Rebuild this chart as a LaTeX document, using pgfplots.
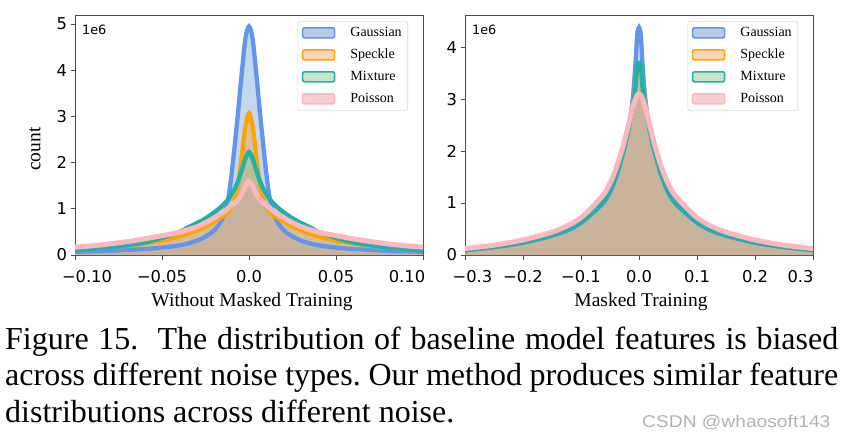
\documentclass[border=0pt]{standalone}
\usepackage{fontspec}
\setmainfont{Liberation Serif}
\newfontfamily\dejavu{DejaVu Sans}
\newfontfamily\wmfont{Liberation Sans}
\usepackage{pgfplots}
\pgfplotsset{compat=1.18}
\usepackage{pgfplotstable}

\definecolor{gline}{HTML}{6495ED}
\definecolor{sline}{HTML}{FFA500}
\definecolor{mline}{HTML}{20B2AA}
\definecolor{pline}{HTML}{FFB6C1}
\definecolor{gfill}{HTML}{6A9AD8}
\definecolor{sfill}{HTML}{FF9A40}
\definecolor{mfill}{HTML}{7CC47C}
\definecolor{pfill}{HTML}{E8A0A0}
\definecolor{gleg}{HTML}{B8CCE8}
\definecolor{sleg}{HTML}{FDD6BA}
\definecolor{mleg}{HTML}{C8E4C8}
\definecolor{pleg}{HTML}{F5D0D2}

\pgfplotstableread{
x g s m p
-0.100 0.07 0.12 0.10 0.17
-0.090 0.08 0.14 0.13 0.20
-0.080 0.09 0.17 0.16 0.24
-0.070 0.11 0.20 0.21 0.29
-0.060 0.13 0.25 0.27 0.35
-0.050 0.16 0.31 0.37 0.42
-0.040 0.21 0.40 0.50 0.49
-0.035 0.25 0.46 0.60 0.55
-0.030 0.31 0.53 0.69 0.61
-0.026 0.38 0.60 0.77 0.68
-0.022 0.47 0.68 0.87 0.76
-0.018 0.62 0.77 0.98 0.85
-0.015 0.82 0.84 1.08 0.92
-0.012 1.22 0.93 1.20 1.01
-0.010 1.75 1.05 1.32 1.08
-0.008 2.45 1.25 1.45 1.14
-0.006 3.20 1.60 1.63 1.21
-0.004 4.00 2.20 1.86 1.33
-0.002 4.70 2.80 2.10 1.50
0.000 4.95 3.07 2.23 1.60
0.002 4.70 2.80 2.10 1.50
0.004 4.00 2.20 1.86 1.33
0.006 3.20 1.60 1.63 1.21
0.008 2.45 1.25 1.45 1.14
0.010 1.75 1.05 1.32 1.08
0.012 1.22 0.93 1.20 1.01
0.015 0.82 0.84 1.08 0.92
0.018 0.62 0.77 0.98 0.85
0.022 0.47 0.68 0.87 0.76
0.026 0.38 0.60 0.77 0.68
0.030 0.31 0.53 0.69 0.61
0.035 0.25 0.46 0.60 0.55
0.040 0.21 0.40 0.50 0.49
0.050 0.16 0.31 0.37 0.42
0.060 0.13 0.25 0.27 0.35
0.070 0.11 0.20 0.21 0.29
0.080 0.09 0.17 0.16 0.24
0.090 0.08 0.14 0.13 0.20
0.100 0.07 0.12 0.10 0.17
}\leftdata

\pgfplotstableread{
x g s m p
-0.300 0.092 0.10 0.095 0.125
-0.250 0.15 0.16 0.155 0.19
-0.200 0.235 0.25 0.24 0.29
-0.150 0.37 0.39 0.38 0.44
-0.120 0.49 0.51 0.50 0.58
-0.100 0.62 0.65 0.63 0.72
-0.090 0.71 0.74 0.72 0.82
-0.080 0.81 0.84 0.82 0.93
-0.070 0.91 0.95 0.92 1.05
-0.060 1.03 1.07 1.04 1.18
-0.050 1.21 1.25 1.22 1.38
-0.040 1.49 1.53 1.50 1.65
-0.035 1.66 1.70 1.67 1.82
-0.030 1.86 1.90 1.87 2.00
-0.025 2.07 2.10 2.07 2.20
-0.020 2.33 2.35 2.32 2.42
-0.015 2.65 2.62 2.60 2.65
-0.010 3.10 2.95 2.92 2.88
-0.006 3.70 3.28 3.25 3.00
-0.003 4.25 3.55 3.66 3.08
0.000 4.38 3.62 3.68 3.10
0.003 4.25 3.55 3.66 3.08
0.006 3.70 3.28 3.25 3.00
0.010 3.10 2.95 2.92 2.88
0.015 2.65 2.62 2.60 2.65
0.020 2.33 2.35 2.32 2.42
0.025 2.07 2.10 2.07 2.20
0.030 1.86 1.90 1.87 2.00
0.035 1.66 1.70 1.67 1.82
0.040 1.49 1.53 1.50 1.65
0.050 1.21 1.25 1.22 1.38
0.060 1.03 1.07 1.04 1.18
0.070 0.91 0.95 0.92 1.05
0.080 0.81 0.84 0.82 0.93
0.090 0.71 0.74 0.72 0.82
0.100 0.62 0.65 0.63 0.72
0.120 0.49 0.51 0.50 0.58
0.150 0.37 0.39 0.38 0.44
0.200 0.235 0.25 0.24 0.29
0.250 0.15 0.16 0.155 0.19
0.300 0.092 0.10 0.095 0.125
}\rightdata

\pgfplotsset{
  myaxis/.style={
    scale only axis, width=348pt, height=240pt,
    axis line style={black!70, line width=0.8pt},
    ymin=0,
    tick align=outside, major tick length=4.5pt,
    tick pos=left,
    tick style={black!70, line width=0.8pt},
    ticklabel style={font=\dejavu\fontsize{16.3}{17}\selectfont},
    xticklabel style={yshift=-7pt},
    ytick={0,1,2,3,4,5}, yticklabels={0,1,2,3,4,5},
    legend cell align=left,
    legend image code/.code={\draw[##1] (0pt,-5pt) rectangle (32pt,5pt);},
    legend style={at={(rel axis cs:0.957,0.975)}, anchor=north east,
      draw=black!15, rounded corners=2pt, line width=0.6pt,
      font=\fontsize{14}{15}\selectfont,
      inner xsep=4pt, inner ysep=3pt, row sep=5pt, column sep=13pt,
      nodes={text height=10pt, text depth=3pt, inner sep=2pt}},
    fillg/.style={draw=none, fill=gfill, fill opacity=0.4, forget plot, smooth},
    fills/.style={draw=none, fill=sfill, fill opacity=0.4, forget plot, smooth},
    fillm/.style={draw=none, fill=mfill, fill opacity=0.4, forget plot, smooth},
    fillp/.style={draw=none, fill=pfill, fill opacity=0.4, forget plot, smooth},
    lg/.style={gline, line width=4.3pt, smooth, forget plot},
    ls/.style={sline, line width=4.3pt, smooth, forget plot},
    lm/.style={mline, line width=4.3pt, smooth, forget plot},
    lp/.style={pline, line width=5pt, smooth, forget plot},
  }
}

\begin{document}
\begin{tikzpicture}
\useasboundingbox (0pt,-440pt) rectangle (843pt,0pt);

\begin{axis}[myaxis, at={(75pt,-255pt)}, anchor=south west,
  xmin=-0.10, xmax=0.10, ymax=5.195,
  xtick={-0.1,-0.05,0,0.05,0.1},
  xticklabels={\hspace*{24pt}−0.10,−0.05,0.0,0.05,0.10\hspace*{32pt}}]
  \addplot[fillg] table[x=x,y=g]{\leftdata} \closedcycle;
  \addplot[fills] table[x=x,y=s]{\leftdata} \closedcycle;
  \addplot[fillm] table[x=x,y=m]{\leftdata} \closedcycle;
  \addplot[fillp] table[x=x,y=p]{\leftdata} \closedcycle;
  \addplot[lg] table[x=x,y=g]{\leftdata};
  \addplot[ls] table[x=x,y=s]{\leftdata};
  \addplot[lm] table[x=x,y=m]{\leftdata};
  \addplot[lp] table[x=x,y=p]{\leftdata};
  \addlegendimage{draw=gline, fill=gleg, line width=1.6pt}
  \addlegendentry{Gaussian}
  \addlegendimage{draw=sline, fill=sleg, line width=1.6pt}
  \addlegendentry{Speckle}
  \addlegendimage{draw=mline, fill=mleg, line width=1.6pt}
  \addlegendentry{Mixture}
  \addlegendimage{draw=pline, fill=pleg, line width=1.6pt}
  \addlegendentry{Poisson}
  \node[anchor=north west, inner sep=0pt, font=\dejavu\fontsize{12.8}{13}\selectfont]
    at (rel axis cs:0,1) [xshift=7pt, yshift=-10pt] {1e6};
\end{axis}

\begin{axis}[myaxis, at={(465pt,-255pt)}, anchor=south west,
  xmin=-0.3, xmax=0.3, ymax=4.62,
  xtick={-0.3,-0.2,-0.1,0,0.1,0.2,0.3},
  xticklabels={\hspace*{15pt}−0.3,−0.2,−0.1,0.0,0.1,0.2,0.3\hspace*{25pt}},
  ytick={0,1,2,3,4}, yticklabels={0,1,2,3,4}]
  \addplot[fillg] table[x=x,y=g]{\rightdata} \closedcycle;
  \addplot[fills] table[x=x,y=s]{\rightdata} \closedcycle;
  \addplot[fillm] table[x=x,y=m]{\rightdata} \closedcycle;
  \addplot[fillp] table[x=x,y=p]{\rightdata} \closedcycle;
  \addplot[lg] table[x=x,y=g]{\rightdata};
  \addplot[ls] table[x=x,y=s]{\rightdata};
  \addplot[lm] table[x=x,y=m]{\rightdata};
  \addplot[lp] table[x=x,y=p]{\rightdata};
  \addlegendimage{draw=gline, fill=gleg, line width=1.6pt}
  \addlegendentry{Gaussian}
  \addlegendimage{draw=sline, fill=sleg, line width=1.6pt}
  \addlegendentry{Speckle}
  \addlegendimage{draw=mline, fill=mleg, line width=1.6pt}
  \addlegendentry{Mixture}
  \addlegendimage{draw=pline, fill=pleg, line width=1.6pt}
  \addlegendentry{Poisson}
  \node[anchor=north west, inner sep=0pt, font=\dejavu\fontsize{12.8}{13}\selectfont]
    at (rel axis cs:0,1) [xshift=7pt, yshift=-10pt] {1e6};
\end{axis}

\node[rotate=90, anchor=center, font=\fontsize{19.5}{20}\selectfont] at (35pt,-149pt) {count};
\node[anchor=center, font=\fontsize{19.5}{20}\selectfont] at (252pt,-302pt) {Without Masked Training};
\node[anchor=center, font=\fontsize{19.5}{20}\selectfont] at (641pt,-302pt) {Masked Training};

\node[anchor=base west, inner sep=0pt, font=\fontsize{32}{35}\selectfont] at (5pt,-349pt)
  {\hbox to 833pt{Figure 15.\ \ The distribution of baseline model features is biased}};
\node[anchor=base west, inner sep=0pt, font=\fontsize{32}{35}\selectfont] at (5pt,-385.5pt)
  {\frenchspacing\hbox to 833pt{across different noise types. Our method produces similar feature}};
\node[anchor=base west, inner sep=0pt, font=\fontsize{32}{35}\selectfont] at (5pt,-422pt)
  {\frenchspacing distributions across different noise.};
\node[anchor=base west, inner sep=0pt, text=black!30, xscale=1.13, font=\wmfont\fontsize{17}{18}\selectfont] at (642pt,-427pt)
  {CSDN @whaosoft143};
\end{tikzpicture}
\end{document}
